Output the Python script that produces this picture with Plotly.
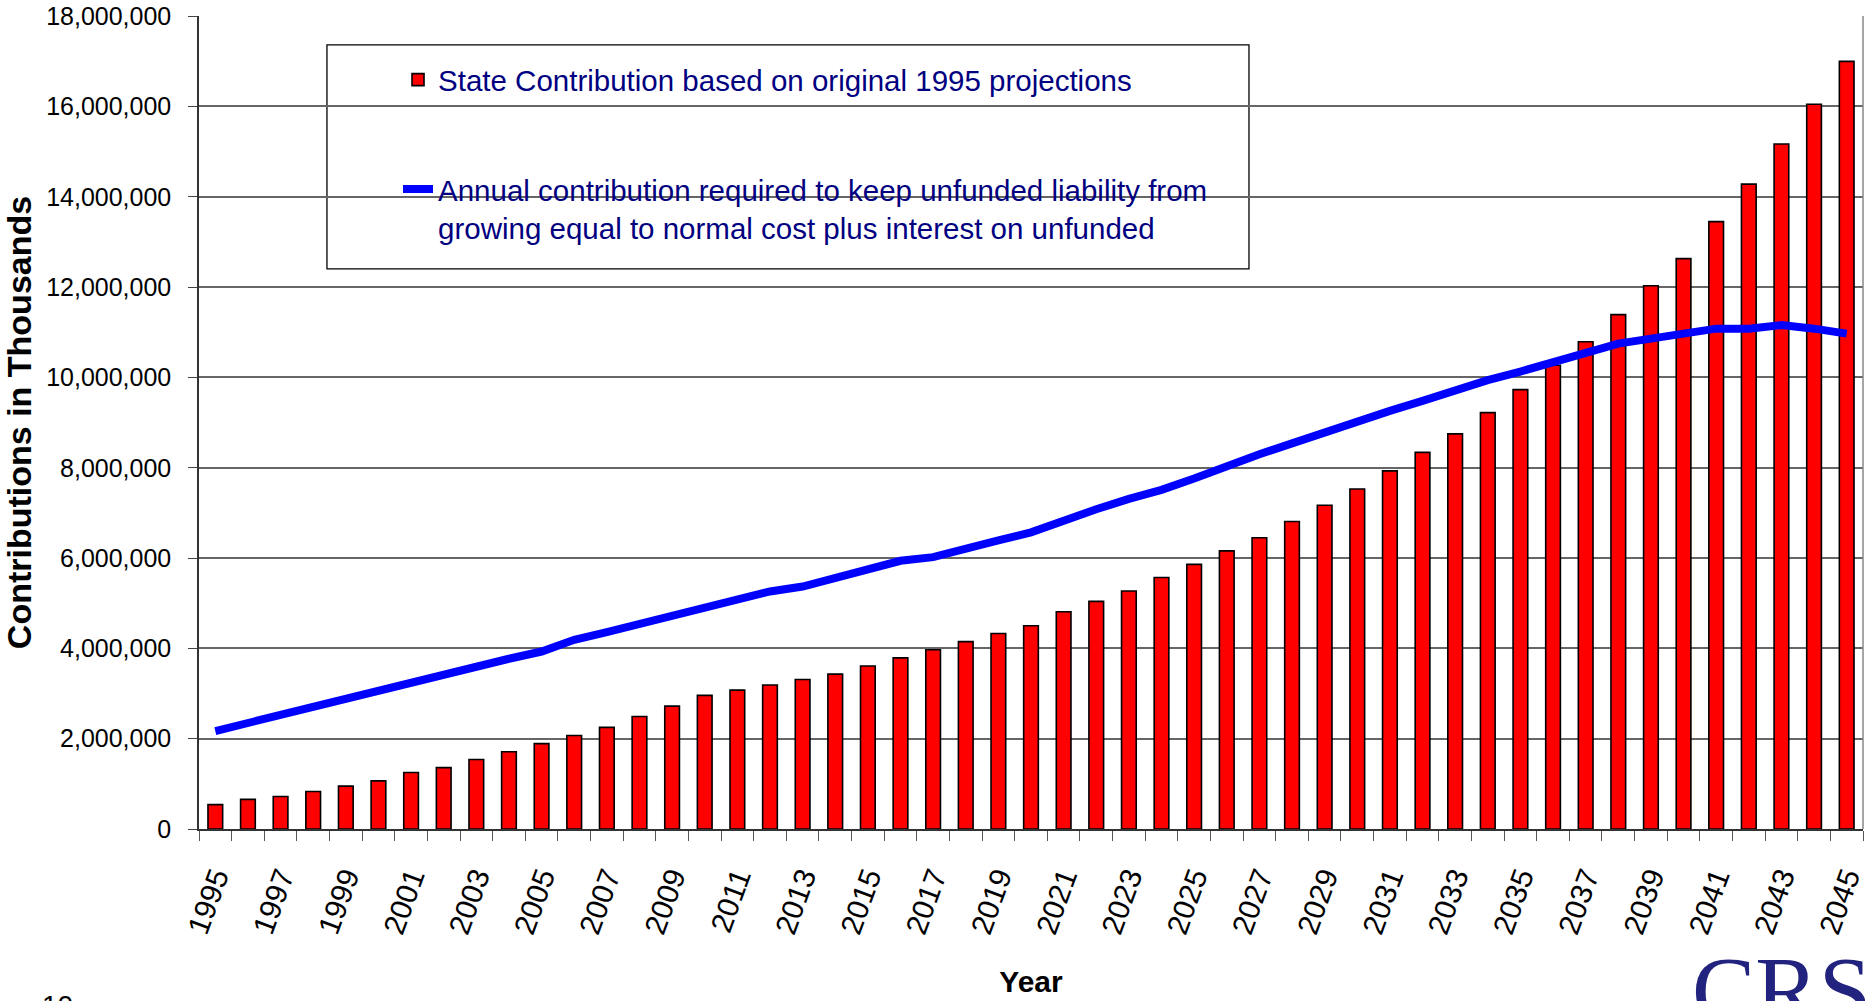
import plotly.graph_objects as go

# ---- data (values in thousands of dollars) ----
years = list(range(1995, 2046))
label_years = [y for y in years if y % 2 == 1]

state_contribution = [
    540000, 655000, 720000, 830000, 950000, 1065000, 1250000, 1360000, 1540000, 1710000,
    1890000, 2070000, 2250000, 2490000, 2720000, 2960000, 3075000, 3190000, 3310000, 3430000,
    3610000, 3790000, 3970000, 4150000, 4330000, 4500000, 4810000, 5040000, 5270000, 5570000,
    5860000, 6160000, 6450000, 6810000, 7170000, 7530000, 7930000, 8340000, 8750000, 9220000,
    9730000, 10270000, 10790000, 11390000, 12030000, 12630000, 13450000, 14280000, 15170000, 16050000,
    17000000,
]

required_contribution = [
    2170000, 2350000, 2540000, 2710000, 2900000, 3060000, 3240000, 3420000, 3590000, 3770000,
    3930000, 4190000, 4360000, 4540000, 4730000, 4910000, 5080000, 5260000, 5370000, 5560000,
    5750000, 5940000, 6020000, 6220000, 6390000, 6570000, 6840000, 7080000, 7310000, 7510000,
    7760000, 8050000, 8300000, 8540000, 8790000, 9020000, 9260000, 9480000, 9720000, 9940000,
    10130000, 10350000, 10530000, 10750000, 10860000, 10970000, 11080000, 11080000, 11160000, 11080000,
    10970000,
]

y_ticks = [0, 2000000, 4000000, 6000000, 8000000, 10000000, 12000000, 14000000, 16000000, 18000000]

bar_name = "State Contribution based on original 1995 projections"
line_name = ("Annual contribution required to keep unfunded liability from<br>"
             "growing equal to normal cost plus interest on unfunded")

SANS = "Liberation Sans, Arial, sans-serif"

fig = go.Figure()
fig.add_trace(go.Bar(
    x=years, y=state_contribution, name=bar_name, legendgroup="a",
    width=0.45,
    marker=dict(color="#FF0000", line=dict(color="#000000", width=1.6)),
))
fig.add_trace(go.Scatter(
    x=years, y=required_contribution, name=line_name, legendgroup="b",
    mode="lines", line=dict(color="#0000FF", width=8),
))

fig.update_layout(
    width=1865, height=1001,
    margin=dict(l=199, r=2, t=16, b=172, autoexpand=False),
    paper_bgcolor="white", plot_bgcolor="white",
    showlegend=True,
    legend=dict(
        x=0.1196, y=0.9533, xanchor="left", yanchor="top",
        bgcolor="rgba(0,0,0,0)", borderwidth=0,
        font=dict(family=SANS, size=29.5, color="#000080"),
        traceorder="grouped", tracegroupgap=68, valign="top",
    ),
    shapes=[
        dict(type="rect", xref="paper", yref="paper", x0=0.0769, x1=0.631, y0=0.689, y1=0.9644,
             fillcolor="white", line=dict(color="#000000", width=1.3), layer="between"),
        dict(type="line", xref="paper", yref="paper", x0=1, x1=1, y0=0, y1=1,
             line=dict(color="#888888", width=1.5)),
    ],
    annotations=[
        dict(text="10", xref="paper", yref="paper", x=-0.0956, y=-0.196, xanchor="left", yanchor="top",
             showarrow=False, font=dict(family=SANS, size=28, color="#000000")),
        dict(text="CRS", xref="paper", yref="paper", x=0.896, y=-0.131, xanchor="left", yanchor="top",
             showarrow=False, font=dict(family="Liberation Serif, Times New Roman, serif", size=95, color="#22227f")),
    ],
)

fig.update_xaxes(
    type="linear", range=[1994.5, 2045.5], automargin=False,
    tickmode="array", tickvals=label_years, ticktext=[str(y) for y in label_years],
    ticks="", tickangle=-70, ticklabelstandoff=17, ticklabeloverflow="allow",
    tickfont=dict(family=SANS, size=30, color="#000000"),
    minor=dict(tick0=1994.5, dtick=1, ticks="outside", ticklen=10, tickwidth=1.3, tickcolor="#555555", showgrid=False),
    showgrid=False, zeroline=False,
    showline=True, linecolor="#333333", linewidth=1.5,
    title=dict(text="<b>Year</b>", font=dict(family=SANS, size=30, color="#000000"), standoff=33),
)
fig.update_yaxes(
    range=[0, 18004000], tickmode="array", tickvals=y_ticks, tickformat=",d", automargin=False,
    ticks="outside", ticklen=9, tickwidth=1.3, tickcolor="#444444", ticklabelstandoff=12,
    tickfont=dict(family=SANS, size=25, color="#000000"),
    showgrid=True, gridcolor="#666666", gridwidth=1.5, zeroline=False,
    showline=True, linecolor="#333333", linewidth=1.5,
    title=dict(text="<b>Contributions in Thousands</b>", font=dict(family=SANS, size=34, color="#000000"), standoff=11),
)

fig.write_html("out.html", config={"displayModeBar": False},
               post_script="document.body.style.margin='0px';")
